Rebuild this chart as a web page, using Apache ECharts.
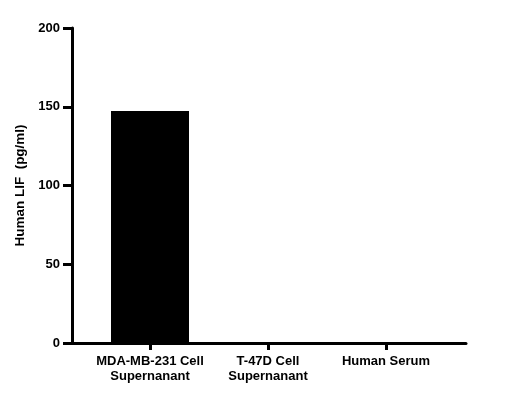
<!DOCTYPE html>
<html><head><meta charset="utf-8">
<script src="https://cdn.jsdelivr.net/npm/echarts@6/dist/echarts.min.js"></script>
<style>html,body{margin:0;padding:0;background:#fff}#c{width:512px;height:410px}</style>
</head><body><div id="c"></div>
<script>
var categories = ['MDA-MB-231 Cell\nSupernanant', 'T-47D Cell\nSupernanant', 'Human Serum'];
var values = [147.3, 0, 0];
var yTicks = [0, 50, 100, 150, 200];
var yTitle = 'Human LIF  (pg/ml)';

var font = 'Liberation Sans, Arial, sans-serif';
var chart = echarts.init(document.getElementById('c'));
chart.setOption({
  animation: false,
  backgroundColor: '#fff',
  grid: [
    {left: 72, right: 46, top: 28, bottom: 67},
    {left: 91, right: 67, top: 28, bottom: 67}
  ],
  xAxis: [
    {gridIndex: 0, type: 'value', min: 0, max: 1,
     axisLine: {show: true, onZero: false, lineStyle: {color: '#000', width: 3}},
     axisTick: {show: false}, axisLabel: {show: false}, splitLine: {show: false}},
    {gridIndex: 1, type: 'category', data: categories,
     axisLine: {show: false, onZero: false},
     axisTick: {show: true, alignWithLabel: true, interval: 0, length: 7, lineStyle: {color: '#000', width: 3}},
     axisLabel: {interval: 0, color: '#000', fontFamily: font, fontWeight: 'bold', fontSize: 13, lineHeight: 15, margin: 11},
     splitLine: {show: false}}
  ],
  yAxis: [
    {gridIndex: 0, type: 'value', min: yTicks[0], max: yTicks[yTicks.length - 1], interval: 50,
     name: yTitle, nameLocation: 'middle', nameGap: 45,
     nameTextStyle: {color: '#000', fontFamily: font, fontWeight: 'bold', fontSize: 13.5},
     axisLine: {show: true, lineStyle: {color: '#000', width: 3}},
     axisTick: {show: true, length: 9, lineStyle: {color: '#000', width: 3}},
     axisLabel: {color: '#000', fontFamily: font, fontWeight: 'bold', fontSize: 13, margin: 12},
     splitLine: {show: false}},
    {gridIndex: 1, type: 'value', min: yTicks[0], max: yTicks[yTicks.length - 1], interval: 50,
     show: false}
  ],
  series: [{
    type: 'bar', xAxisIndex: 1, yAxisIndex: 1, data: values,
    barWidth: 78, itemStyle: {color: '#000'}
  }]
});
</script></body></html>
